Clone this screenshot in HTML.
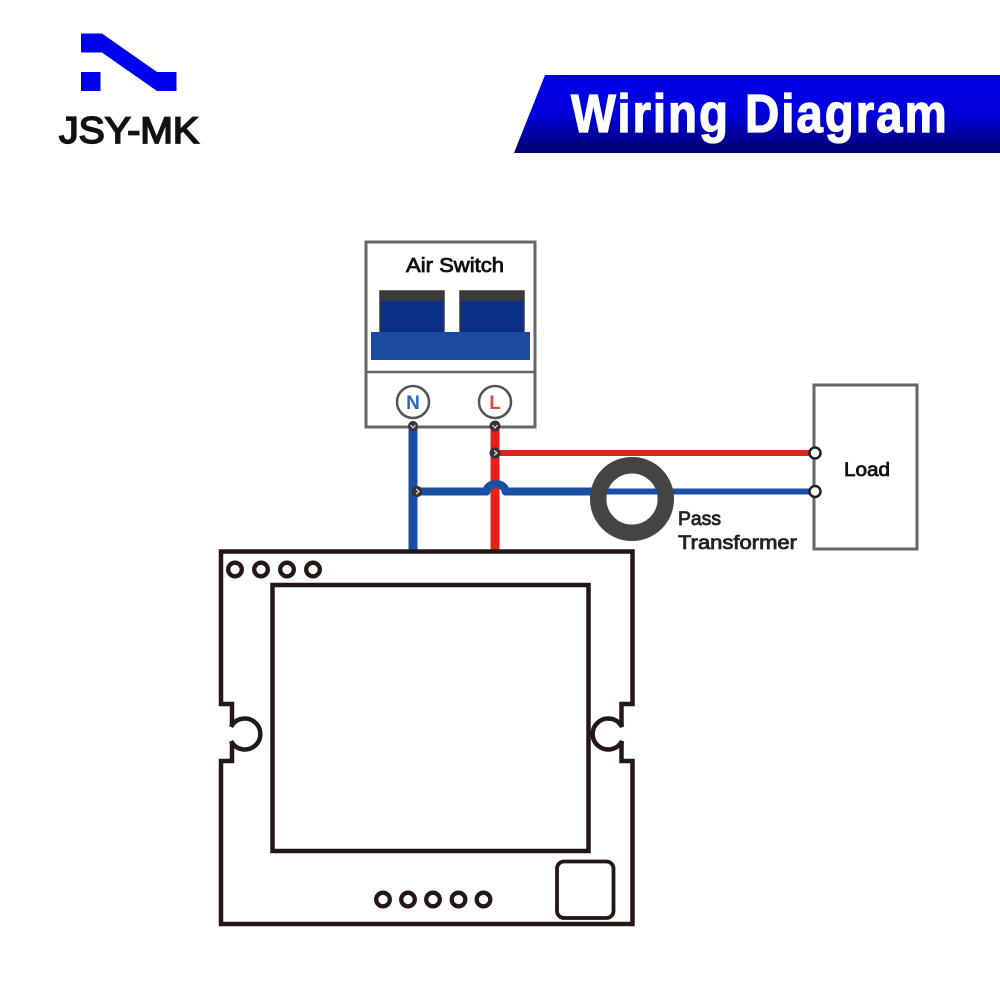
<!DOCTYPE html>
<html>
<head>
<meta charset="utf-8">
<style>
html,body{margin:0;padding:0;background:#fff}
svg{display:block}
text{font-family:"Liberation Sans",sans-serif}
</style>
</head>
<body>
<svg width="1000" height="1000" viewBox="0 0 1000 1000" xmlns="http://www.w3.org/2000/svg">
<defs>
<linearGradient id="g" x1="0" y1="0" x2="0" y2="1">
<stop offset="0" stop-color="#0000e6"/>
<stop offset="0.5" stop-color="#0000dc"/>
<stop offset="1" stop-color="#00006e"/>
</linearGradient>
</defs>
<rect width="1000" height="1000" fill="#fff"/>

<!-- Logo -->
<polygon points="81,33.5 102,33.5 157,72 176.500,72 176.500,91 157,91 102,52.500 81,52.500" fill="#0000f0"/>
<rect x="81" y="72" width="19.500" height="19" fill="#0000f0"/>
<text x="59" y="143" font-size="37" fill="#111" stroke="#111" stroke-width="1.700" textLength="140" lengthAdjust="spacingAndGlyphs">JSY-MK</text>

<!-- Banner -->
<polygon points="545,75 1000,75 1000,153 514,153" fill="url(#g)"/>
<text transform="translate(571,132) scale(.88,1)" font-size="54" font-weight="bold" fill="#fff" stroke="#fff" stroke-width="1.300" textLength="427" lengthAdjust="spacing">Wiring Diagram</text>

<!-- Air switch -->
<rect x="366" y="242" width="169" height="185" fill="#fff" stroke="#666" stroke-width="3"/>
<line x1="366" y1="372" x2="535" y2="372" stroke="#666" stroke-width="2.500"/>
<rect x="380" y="291" width="64" height="42" fill="#0a3088" stroke="#3a3a3a" stroke-width="1.500"/>
<rect x="380" y="291" width="64" height="10" fill="#3a3a3a"/>
<rect x="460" y="291" width="64" height="42" fill="#0a3088" stroke="#3a3a3a" stroke-width="1.500"/>
<rect x="460" y="291" width="64" height="10" fill="#3a3a3a"/>
<rect x="371" y="332" width="159" height="28" fill="#1a4b9f"/>
<text x="406" y="272" font-size="20" fill="#111" stroke="#111" stroke-width=".8" textLength="98" lengthAdjust="spacingAndGlyphs">Air Switch</text>
<circle cx="413" cy="402" r="16" fill="#fff" stroke="#555" stroke-width="2.500"/>
<circle cx="495" cy="402" r="16" fill="#fff" stroke="#555" stroke-width="2.500"/>
<text x="413" y="409" font-size="19" font-weight="bold" fill="#2c63b8" text-anchor="middle">N</text>
<text x="495" y="409" font-size="19" font-weight="bold" fill="#ee4444" text-anchor="middle">L</text>

<!-- Load box -->
<rect x="814" y="385" width="103" height="164" fill="#fff" stroke="#666" stroke-width="3"/>
<text x="844" y="476" font-size="19" fill="#111" stroke="#111" stroke-width=".8" textLength="46" lengthAdjust="spacingAndGlyphs">Load</text>

<!-- Wires -->
<line x1="413" y1="426" x2="413" y2="552" stroke="#1a4fa5" stroke-width="9"/>
<line x1="495" y1="426" x2="495" y2="552" stroke="#e8201c" stroke-width="9"/>
<line x1="495" y1="453" x2="815" y2="453" stroke="#e8201c" stroke-width="6"/>
<path d="M417,491.500 H486.500 A9.500,7.500 0 0 1 505.500,491.500 H592" fill="none" stroke="#1a4fa5" stroke-width="8" stroke-linejoin="round"/>
<line x1="590" y1="491.500" x2="815" y2="491.500" stroke="#1a4fa5" stroke-width="6"/>

<!-- Torus -->
<circle cx="632" cy="499" r="33.800" fill="none" stroke="#444" stroke-width="16.500"/>
<rect x="607" y="488.500" width="50" height="6" fill="#1a4fa5"/>
<text x="678" y="525" font-size="19" fill="#222" stroke="#222" stroke-width=".8" textLength="43" lengthAdjust="spacingAndGlyphs">Pass</text>
<text x="678" y="549" font-size="19" fill="#222" stroke="#222" stroke-width=".8" textLength="119" lengthAdjust="spacingAndGlyphs">Transformer</text>

<!-- Terminals -->
<g fill="#333">
<circle cx="413" cy="426" r="5"/>
<circle cx="495" cy="426" r="5.500"/>
<circle cx="495" cy="453" r="5.500"/>
<circle cx="417" cy="491.500" r="5.500"/>
</g>
<g fill="none" stroke="#ddd" stroke-width="1.200">
<path d="M410.500,425 L413,428 L415.500,425"/>
<path d="M492.500,425 L495,428 L497.500,425"/>
<path d="M494,450.500 L497,453 L494,455.500"/>
<path d="M416,489 L419,491.500 L416,494"/>
</g>
<circle cx="815" cy="453" r="5.500" fill="#fff" stroke="#222" stroke-width="2.500"/>
<circle cx="815" cy="491.500" r="5.500" fill="#fff" stroke="#222" stroke-width="2.500"/>

<!-- PCB -->
<path d="M221,551.500 H632.500 V704 H621.500 V725 L622,727 A15.500,15.500 0 1 0 622,741 L621.500,743 V761 H632.500 V924 H221 V761 H232 V743 L231,741 A15.500,15.500 0 1 0 231,727 L232,725 V704 H221 Z" fill="#fff" stroke="#231815" stroke-width="4.500" stroke-linejoin="miter"/>
<rect x="272.500" y="585" width="316" height="266" fill="#fff" stroke="#231815" stroke-width="4.500"/>
<g fill="#fff" stroke="#231815" stroke-width="4.300">
<circle cx="235" cy="569.500" r="6.800"/>
<circle cx="261" cy="569.500" r="6.800"/>
<circle cx="287" cy="569.500" r="6.800"/>
<circle cx="313" cy="569.500" r="6.800"/>
<circle cx="383" cy="899.500" r="6.800"/>
<circle cx="408" cy="899.500" r="6.800"/>
<circle cx="433" cy="899.500" r="6.800"/>
<circle cx="458.500" cy="899.500" r="6.800"/>
<circle cx="483.500" cy="899.500" r="6.800"/>
</g>
<rect x="557" y="861.500" width="56.500" height="56.500" rx="7" ry="7" fill="#fff" stroke="#231815" stroke-width="3.800"/>
</svg>
</body>
</html>
